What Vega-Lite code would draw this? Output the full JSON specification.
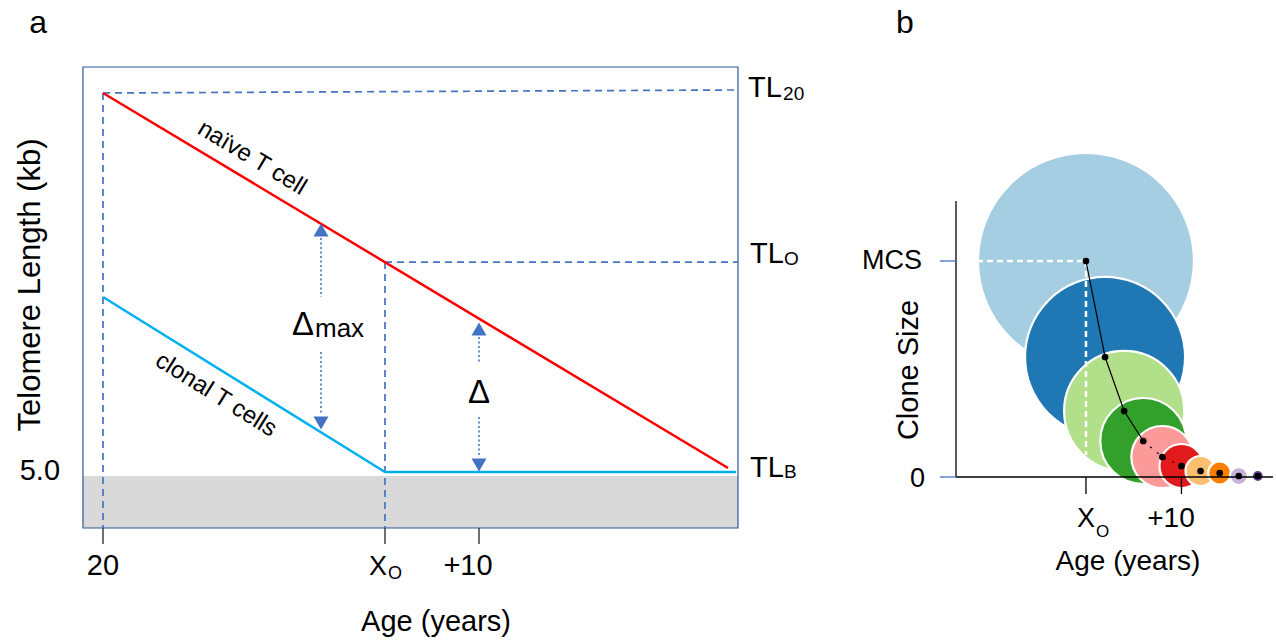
{
"$schema": "https://vega.github.io/schema/vega-lite/v6.json",
"width": 1276, "height": 640, "autosize": {"type": "none"}, "padding": 0,
"background": "white",
"config": {"view": {"stroke": null}, "font": "Liberation Sans", "text": {"font": "Liberation Sans", "color": "#000000"}},
"datasets": {
 "clones": [
  {"clone": 1, "x": 50, "y": 100, "area": 100},
  {"clone": 2, "x": 52, "y": 55.56, "area": 54.9},
  {"clone": 3, "x": 54, "y": 30.56, "area": 30.9},
  {"clone": 4, "x": 56, "y": 16.67, "area": 15.85},
  {"clone": 5, "x": 58, "y": 9.26, "area": 8.24},
  {"clone": 6, "x": 60, "y": 5.09, "area": 4.15},
  {"clone": 7, "x": 62, "y": 2.78, "area": 1.93},
  {"clone": 8, "x": 64, "y": 1.85, "area": 1.13},
  {"clone": 9, "x": 66, "y": 0.46, "area": 0.69},
  {"clone": 10, "x": 68, "y": 0.46, "area": 0.31}
 ]
},
"layer": [
 {"layer": [
  {"data": {"values": [{"x": 17.87, "x2": 87.55, "y": 4.261, "y2": 4.947}]},
   "mark": {"type": "rect", "fill": "#D9D9D9"},
   "encoding": {"x": {"field": "x", "type": "quantitative", "scale": {"domain": [9.043, 144.787], "nice": false, "zero": false}, "axis": null}, "x2": {"field": "x2"},
    "y": {"field": "y", "type": "quantitative", "scale": {"domain": [2.7836, 11.2269], "nice": false, "zero": false}, "axis": null}, "y2": {"field": "y2"}}},
  {"data": {"values": [{"x": 17.87, "x2": 87.55, "y": 4.261, "y2": 10.343}]},
   "mark": {"type": "rect", "fillOpacity": 0, "stroke": "#2F5597", "strokeWidth": 1.2},
   "encoding": {"x": {"field": "x", "type": "quantitative", "scale": {"domain": [9.043, 144.787], "nice": false, "zero": false}, "axis": null}, "x2": {"field": "x2"},
    "y": {"field": "y", "type": "quantitative", "scale": {"domain": [2.7836, 11.2269], "nice": false, "zero": false}, "axis": null}, "y2": {"field": "y2"}}},
  {"data": {"values": [
     {"x": 20, "y": 10.0, "x2": 87.55, "y2": 10.04},
     {"x": 20, "y": 10.0, "x2": 20, "y2": 4.261},
     {"x": 50, "y": 7.77, "x2": 87.55, "y2": 7.77},
     {"x": 50, "y": 7.77, "x2": 50, "y2": 4.261}]},
   "mark": {"type": "rule", "color": "#4472C4", "strokeWidth": 1.7, "strokeDash": [7, 5]},
   "encoding": {"x": {"field": "x", "type": "quantitative", "scale": {"domain": [9.043, 144.787], "nice": false, "zero": false}, "axis": null}, "x2": {"field": "x2"},
    "y": {"field": "y", "type": "quantitative", "scale": {"domain": [2.7836, 11.2269], "nice": false, "zero": false}, "axis": null}, "y2": {"field": "y2"}}},
  {"data": {"values": [{"x": 20, "y": 4.261, "y2": 4.05}, {"x": 50, "y": 4.261, "y2": 4.05}, {"x": 60, "y": 4.261, "y2": 4.05}]},
   "mark": {"type": "rule", "color": "#404040", "strokeWidth": 1.5},
   "encoding": {"x": {"field": "x", "type": "quantitative", "scale": {"domain": [9.043, 144.787], "nice": false, "zero": false}, "axis": null},
    "y": {"field": "y", "type": "quantitative", "scale": {"domain": [2.7836, 11.2269], "nice": false, "zero": false}, "axis": null}, "y2": {"field": "y2"}}},
  {"data": {"values": [
     {"series": "naive", "x": 20, "y": 10.0},
     {"series": "naive", "x": 86.49, "y": 5.053},
     {"series": "clonal", "x": 20, "y": 7.309},
     {"series": "clonal", "x": 50, "y": 5.0},
     {"series": "clonal", "x": 87.34, "y": 5.0}]},
   "mark": {"type": "line", "strokeWidth": 2.5},
   "encoding": {"x": {"field": "x", "type": "quantitative", "scale": {"domain": [9.043, 144.787], "nice": false, "zero": false}, "axis": null},
    "y": {"field": "y", "type": "quantitative", "scale": {"domain": [2.7836, 11.2269], "nice": false, "zero": false}, "axis": null},
    "color": {"field": "series", "type": "nominal", "scale": {"domain": ["naive", "clonal"], "range": ["#FF0000", "#00B0F0"]}, "legend": null}}},
  {"data": {"values": [
     {"x": 43.19, "y": 8.087, "y2": 7.309},
     {"x": 43.19, "y": 6.583, "y2": 5.752},
     {"x": 60, "y": 6.781, "y2": 6.438},
     {"x": 60, "y": 5.726, "y2": 5.198}]},
   "mark": {"type": "rule", "color": "#4472C4", "strokeWidth": 1.6, "strokeDash": [2, 2.5]},
   "encoding": {"x": {"field": "x", "type": "quantitative", "scale": {"domain": [9.043, 144.787], "nice": false, "zero": false}, "axis": null},
    "y": {"field": "y", "type": "quantitative", "scale": {"domain": [2.7836, 11.2269], "nice": false, "zero": false}, "axis": null}, "y2": {"field": "y2"}}},
  {"data": {"values": [
     {"x": 43.19, "y": 8.193, "dir": "up"},
     {"x": 43.19, "y": 5.646, "dir": "down"},
     {"x": 60, "y": 6.887, "dir": "up"},
     {"x": 60, "y": 5.092, "dir": "down"}]},
   "mark": {"type": "point", "filled": true, "size": 225, "color": "#4472C4", "opacity": 1},
   "encoding": {"x": {"field": "x", "type": "quantitative", "scale": {"domain": [9.043, 144.787], "nice": false, "zero": false}, "axis": null},
    "y": {"field": "y", "type": "quantitative", "scale": {"domain": [2.7836, 11.2269], "nice": false, "zero": false}, "axis": null},
    "shape": {"field": "dir", "type": "nominal", "scale": {"domain": ["up", "down"], "range": ["triangle-up", "triangle-down"]}, "legend": null}}},
  {"data": {"values": [{"x": 88.62, "y": 9.947, "t": "TL"}, {"x": 88.83, "y": 7.757, "t": "TL"}, {"x": 88.83, "y": 4.934, "t": "TL"}]},
   "mark": {"type": "text", "align": "left", "baseline": "alphabetic", "fontSize": 29},
   "encoding": {"x": {"field": "x", "type": "quantitative", "scale": {"domain": [9.043, 144.787], "nice": false, "zero": false}, "axis": null},
    "y": {"field": "y", "type": "quantitative", "scale": {"domain": [2.7836, 11.2269], "nice": false, "zero": false}, "axis": null}, "text": {"field": "t"}}},
  {"data": {"values": [{"x": 92.35, "y": 9.908, "t": "20"}, {"x": 92.45, "y": 7.731, "t": "O"}, {"x": 92.45, "y": 4.921, "t": "B"}]},
   "mark": {"type": "text", "align": "left", "baseline": "alphabetic", "fontSize": 19},
   "encoding": {"x": {"field": "x", "type": "quantitative", "scale": {"domain": [9.043, 144.787], "nice": false, "zero": false}, "axis": null},
    "y": {"field": "y", "type": "quantitative", "scale": {"domain": [2.7836, 11.2269], "nice": false, "zero": false}, "axis": null}, "text": {"field": "t"}}},
  {"data": {"values": [{"x": 20, "y": 3.641, "t": "20"}, {"x": 58.83, "y": 3.641, "t": "+10"}, {"x": 55.43, "y": 2.902, "t": "Age (years)"}]},
   "mark": {"type": "text", "align": "center", "baseline": "alphabetic", "fontSize": 29},
   "encoding": {"x": {"field": "x", "type": "quantitative", "scale": {"domain": [9.043, 144.787], "nice": false, "zero": false}, "axis": null},
    "y": {"field": "y", "type": "quantitative", "scale": {"domain": [2.7836, 11.2269], "nice": false, "zero": false}, "axis": null}, "text": {"field": "t"}}},
  {"data": {"values": [{"x": 48.3, "y": 3.641, "t": "X"}]},
   "mark": {"type": "text", "align": "left", "baseline": "alphabetic", "fontSize": 27},
   "encoding": {"x": {"field": "x", "type": "quantitative", "scale": {"domain": [9.043, 144.787], "nice": false, "zero": false}, "axis": null},
    "y": {"field": "y", "type": "quantitative", "scale": {"domain": [2.7836, 11.2269], "nice": false, "zero": false}, "axis": null}, "text": {"field": "t"}}},
  {"data": {"values": [{"x": 50.32, "y": 3.588, "t": "O"}]},
   "mark": {"type": "text", "align": "left", "baseline": "alphabetic", "fontSize": 18},
   "encoding": {"x": {"field": "x", "type": "quantitative", "scale": {"domain": [9.043, 144.787], "nice": false, "zero": false}, "axis": null},
    "y": {"field": "y", "type": "quantitative", "scale": {"domain": [2.7836, 11.2269], "nice": false, "zero": false}, "axis": null}, "text": {"field": "t"}}},
  {"data": {"values": [{"x": 15.43, "y": 4.894, "t": "5.0"}]},
   "mark": {"type": "text", "align": "right", "baseline": "alphabetic", "fontSize": 29},
   "encoding": {"x": {"field": "x", "type": "quantitative", "scale": {"domain": [9.043, 144.787], "nice": false, "zero": false}, "axis": null},
    "y": {"field": "y", "type": "quantitative", "scale": {"domain": [2.7836, 11.2269], "nice": false, "zero": false}, "axis": null}, "text": {"field": "t"}}},
  {"data": {"values": [{"x": 12.34, "y": 7.467, "t": "Telomere Length (kb)"}]},
   "mark": {"type": "text", "align": "center", "baseline": "middle", "fontSize": 31, "angle": 270},
   "encoding": {"x": {"field": "x", "type": "quantitative", "scale": {"domain": [9.043, 144.787], "nice": false, "zero": false}, "axis": null},
    "y": {"field": "y", "type": "quantitative", "scale": {"domain": [2.7836, 11.2269], "nice": false, "zero": false}, "axis": null}, "text": {"field": "t"}}},
  {"data": {"values": [{"x": 35.85, "y": 9.142, "t": "naïve T cell"}]},
   "mark": {"type": "text", "align": "center", "baseline": "middle", "fontSize": 24, "angle": 31},
   "encoding": {"x": {"field": "x", "type": "quantitative", "scale": {"domain": [9.043, 144.787], "nice": false, "zero": false}, "axis": null},
    "y": {"field": "y", "type": "quantitative", "scale": {"domain": [2.7836, 11.2269], "nice": false, "zero": false}, "axis": null}, "text": {"field": "t"}}},
  {"data": {"values": [{"x": 32.02, "y": 6.016, "t": "clonal T cells"}]},
   "mark": {"type": "text", "align": "center", "baseline": "middle", "fontSize": 24, "angle": 32},
   "encoding": {"x": {"field": "x", "type": "quantitative", "scale": {"domain": [9.043, 144.787], "nice": false, "zero": false}, "axis": null},
    "y": {"field": "y", "type": "quantitative", "scale": {"domain": [2.7836, 11.2269], "nice": false, "zero": false}, "axis": null}, "text": {"field": "t"}}},
  {"data": {"values": [{"x": 41.28, "y": 6.807, "t": "Δ"}, {"x": 60, "y": 5.91, "t": "Δ"}]},
   "mark": {"type": "text", "align": "center", "baseline": "alphabetic", "fontSize": 33},
   "encoding": {"x": {"field": "x", "type": "quantitative", "scale": {"domain": [9.043, 144.787], "nice": false, "zero": false}, "axis": null},
    "y": {"field": "y", "type": "quantitative", "scale": {"domain": [2.7836, 11.2269], "nice": false, "zero": false}, "axis": null}, "text": {"field": "t"}}},
  {"data": {"values": [{"x": 42.55, "y": 6.781, "t": "max"}]},
   "mark": {"type": "text", "align": "left", "baseline": "alphabetic", "fontSize": 26},
   "encoding": {"x": {"field": "x", "type": "quantitative", "scale": {"domain": [9.043, 144.787], "nice": false, "zero": false}, "axis": null},
    "y": {"field": "y", "type": "quantitative", "scale": {"domain": [2.7836, 11.2269], "nice": false, "zero": false}, "axis": null}, "text": {"field": "t"}}},
  {"data": {"values": [{"x": 13.09, "y": 10.79, "t": "a"}]},
   "mark": {"type": "text", "align": "center", "baseline": "alphabetic", "fontSize": 32},
   "encoding": {"x": {"field": "x", "type": "quantitative", "scale": {"domain": [9.043, 144.787], "nice": false, "zero": false}, "axis": null},
    "y": {"field": "y", "type": "quantitative", "scale": {"domain": [2.7836, 11.2269], "nice": false, "zero": false}, "axis": null}, "text": {"field": "t"}}}
 ]},
 {"layer": [
  {"data": {"name": "clones"},
   "mark": {"type": "point", "filled": true, "opacity": 1, "stroke": "white", "strokeWidth": 2.2},
   "encoding": {"x": {"field": "x", "type": "quantitative", "scale": {"domain": [-63.72, 69.9], "nice": false, "zero": false}, "axis": null},
    "y": {"field": "y", "type": "quantitative", "scale": {"domain": [-75.46, 220.83], "nice": false, "zero": false}, "axis": null},
    "size": {"field": "area", "type": "quantitative", "scale": {"domain": [0, 100], "range": [0, 46656]}, "legend": null},
    "color": {"field": "clone", "type": "nominal", "scale": {"domain": [1, 2, 3, 4, 5, 6, 7, 8, 9, 10], "range": ["#a6cee3", "#1f78b4", "#b2df8a", "#33a02c", "#fb9a99", "#e31a1c", "#fdbf6f", "#ff7f00", "#cab2d6", "#6a3d9a"]}, "legend": null}}},
  {"data": {"values": [{"x": 38.59, "y": 100, "x2": 50, "y2": 100}, {"x": 50, "y": 100, "x2": 50, "y2": 10.19}]},
   "mark": {"type": "rule", "color": "white", "strokeWidth": 2.5, "strokeDash": [6, 4]},
   "encoding": {"x": {"field": "x", "type": "quantitative", "scale": {"domain": [-63.72, 69.9], "nice": false, "zero": false}, "axis": null}, "x2": {"field": "x2"},
    "y": {"field": "y", "type": "quantitative", "scale": {"domain": [-75.46, 220.83], "nice": false, "zero": false}, "axis": null}, "y2": {"field": "y2"}}},
  {"data": {"values": [{"x": 50, "y": 100}, {"x": 52, "y": 55.56}, {"x": 54, "y": 30.56}, {"x": 56, "y": 16.67}]},
   "mark": {"type": "line", "color": "black", "strokeWidth": 1.2},
   "encoding": {"x": {"field": "x", "type": "quantitative", "scale": {"domain": [-63.72, 69.9], "nice": false, "zero": false}, "axis": null},
    "y": {"field": "y", "type": "quantitative", "scale": {"domain": [-75.46, 220.83], "nice": false, "zero": false}, "axis": null}}},
  {"data": {"values": [{"x": 56, "y": 16.67}, {"x": 58, "y": 9.26}, {"x": 60, "y": 5.09}]},
   "mark": {"type": "line", "color": "black", "strokeWidth": 1.2, "strokeDash": [2, 7]},
   "encoding": {"x": {"field": "x", "type": "quantitative", "scale": {"domain": [-63.72, 69.9], "nice": false, "zero": false}, "axis": null},
    "y": {"field": "y", "type": "quantitative", "scale": {"domain": [-75.46, 220.83], "nice": false, "zero": false}, "axis": null}}},
  {"data": {"name": "clones"},
   "mark": {"type": "point", "filled": true, "opacity": 1, "color": "black", "size": 45},
   "encoding": {"x": {"field": "x", "type": "quantitative", "scale": {"domain": [-63.72, 69.9], "nice": false, "zero": false}, "axis": null},
    "y": {"field": "y", "type": "quantitative", "scale": {"domain": [-75.46, 220.83], "nice": false, "zero": false}, "axis": null}}},
  {"data": {"values": [{"x": 36.39, "y": 127.8, "x2": 36.39, "y2": 0}, {"x": 36.39, "y": 0, "x2": 69.58, "y2": 0}, {"x": 50, "y": 0, "x2": 50, "y2": -7.87}, {"x": 60, "y": 0, "x2": 60, "y2": -7.87}]},
   "mark": {"type": "rule", "color": "black", "strokeWidth": 1.3},
   "encoding": {"x": {"field": "x", "type": "quantitative", "scale": {"domain": [-63.72, 69.9], "nice": false, "zero": false}, "axis": null}, "x2": {"field": "x2"},
    "y": {"field": "y", "type": "quantitative", "scale": {"domain": [-75.46, 220.83], "nice": false, "zero": false}, "axis": null}, "y2": {"field": "y2"}}},
  {"data": {"values": [{"x": 34.71, "y": 100, "x2": 36.39, "y2": 100}, {"x": 34.71, "y": 0, "x2": 36.39, "y2": 0}]},
   "mark": {"type": "rule", "color": "#4472C4", "strokeWidth": 1.3},
   "encoding": {"x": {"field": "x", "type": "quantitative", "scale": {"domain": [-63.72, 69.9], "nice": false, "zero": false}, "axis": null}, "x2": {"field": "x2"},
    "y": {"field": "y", "type": "quantitative", "scale": {"domain": [-75.46, 220.83], "nice": false, "zero": false}, "axis": null}, "y2": {"field": "y2"}}},
  {"data": {"values": [{"x": 32.83, "y": 100, "t": "MCS"}, {"x": 33.14, "y": -0.9, "t": "0"}]},
   "mark": {"type": "text", "align": "right", "baseline": "middle", "fontSize": 27},
   "encoding": {"x": {"field": "x", "type": "quantitative", "scale": {"domain": [-63.72, 69.9], "nice": false, "zero": false}, "axis": null},
    "y": {"field": "y", "type": "quantitative", "scale": {"domain": [-75.46, 220.83], "nice": false, "zero": false}, "axis": null}, "text": {"field": "t"}}},
  {"data": {"values": [{"x": 31.47, "y": 49.54, "t": "Clone Size"}]},
   "mark": {"type": "text", "align": "center", "baseline": "middle", "fontSize": 29, "angle": 270},
   "encoding": {"x": {"field": "x", "type": "quantitative", "scale": {"domain": [-63.72, 69.9], "nice": false, "zero": false}, "axis": null},
    "y": {"field": "y", "type": "quantitative", "scale": {"domain": [-75.46, 220.83], "nice": false, "zero": false}, "axis": null}, "text": {"field": "t"}}},
  {"data": {"values": [{"x": 49.06, "y": -23.15, "t": "X"}]},
   "mark": {"type": "text", "align": "left", "baseline": "alphabetic", "fontSize": 27},
   "encoding": {"x": {"field": "x", "type": "quantitative", "scale": {"domain": [-63.72, 69.9], "nice": false, "zero": false}, "axis": null},
    "y": {"field": "y", "type": "quantitative", "scale": {"domain": [-75.46, 220.83], "nice": false, "zero": false}, "axis": null}, "text": {"field": "t"}}},
  {"data": {"values": [{"x": 51.05, "y": -27.78, "t": "O"}]},
   "mark": {"type": "text", "align": "left", "baseline": "alphabetic", "fontSize": 17},
   "encoding": {"x": {"field": "x", "type": "quantitative", "scale": {"domain": [-63.72, 69.9], "nice": false, "zero": false}, "axis": null},
    "y": {"field": "y", "type": "quantitative", "scale": {"domain": [-75.46, 220.83], "nice": false, "zero": false}, "axis": null}, "text": {"field": "t"}}},
  {"data": {"values": [{"x": 58.9, "y": -23.15, "t": "+10"}, {"x": 54.4, "y": -43.06, "t": "Age (years)"}]},
   "mark": {"type": "text", "align": "center", "baseline": "alphabetic", "fontSize": 28},
   "encoding": {"x": {"field": "x", "type": "quantitative", "scale": {"domain": [-63.72, 69.9], "nice": false, "zero": false}, "axis": null},
    "y": {"field": "y", "type": "quantitative", "scale": {"domain": [-75.46, 220.83], "nice": false, "zero": false}, "axis": null}, "text": {"field": "t"}}},
  {"data": {"values": [{"x": 31.05, "y": 205.56, "t": "b"}]},
   "mark": {"type": "text", "align": "center", "baseline": "alphabetic", "fontSize": 32},
   "encoding": {"x": {"field": "x", "type": "quantitative", "scale": {"domain": [-63.72, 69.9], "nice": false, "zero": false}, "axis": null},
    "y": {"field": "y", "type": "quantitative", "scale": {"domain": [-75.46, 220.83], "nice": false, "zero": false}, "axis": null}, "text": {"field": "t"}}}
 ]}
],
"resolve": {"scale": {"x": "independent", "y": "independent", "color": "independent", "size": "independent", "shape": "independent"}}
}
